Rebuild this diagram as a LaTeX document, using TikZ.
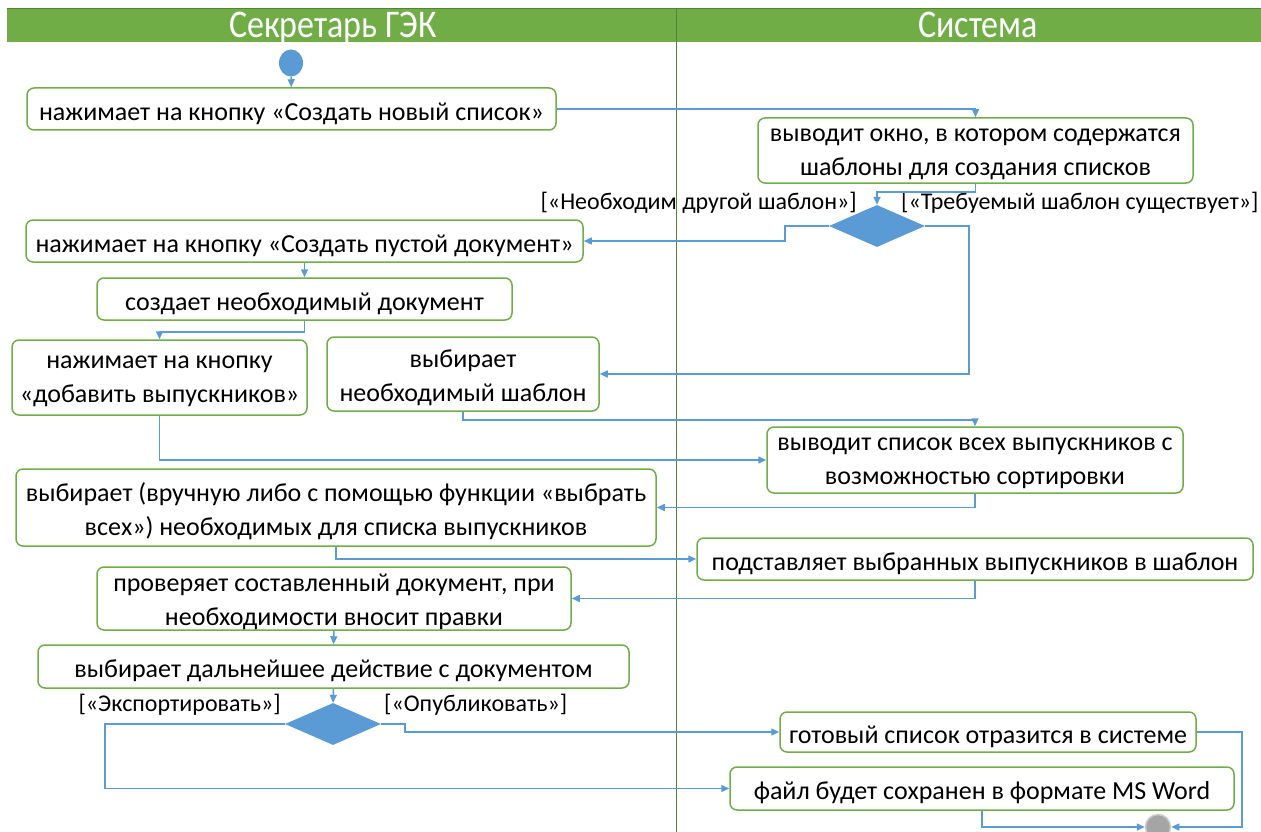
\documentclass[tikz,border=0pt]{standalone}
\usepackage{fontspec}
\usepackage{graphicx}
\setmainfont{Carlito}
\usetikzlibrary{shapes.geometric,arrows.meta}
\definecolor{grn}{HTML}{70AD47}
\definecolor{dgrn}{HTML}{548235}
\definecolor{blu}{HTML}{5B9BD5}
\definecolor{endg}{HTML}{A5A5A5}
\begin{document}
\begin{tikzpicture}[x=1pt,y=-1pt,
  act/.style={draw=grn, line width=1.5pt, rounded corners=7pt, fill=white, inner sep=0pt},
  txt/.style={align=center, inner sep=0pt, font=\fontsize{26}{34}\selectfont},
  con/.style={draw=blu, line width=1.5pt, -{Triangle[length=8pt,width=7pt]}},
  dec/.style={diamond, fill=blu, draw=none, inner sep=0pt, minimum width=96pt, minimum height=42pt},
  guard/.style={inner sep=0pt, font=\fontsize{24}{28}\selectfont},
  head/.style={text=white, inner sep=0pt, anchor=base, font=\fontsize{35}{38}\selectfont}]
\useasboundingbox (0,0) rectangle (1261,832);
% header
\fill[grn] (7,9) rectangle (1261,42);
\draw[dgrn, line width=1pt] (7,9) -- (1261,9);
\draw[dgrn, line width=0.8pt] (676,9) -- (676,832);
\node[head] (h1) at (333,38) {\scalebox{0.97}[1.12]{Секретарь ГЭК}};
\node[head] (h2) at (978,38) {\scalebox{0.97}[1.12]{Система}};
% start / end
\node[ellipse, fill=blu, inner sep=0pt, minimum width=24pt, minimum height=27pt] (st) at (291,63) {};
\node[circle, fill=endg, draw=gray!40, line width=1.5pt, inner sep=0pt, minimum size=25pt] (en) at (1158,827) {};
% activities (boxes)
\node[act, minimum width=529pt, minimum height=42pt] (b1) at (291.5,109) {};
\node[act, minimum width=435pt, minimum height=65pt] (b2) at (975.5,150.5) {};
\node[dec] (d1) at (877,226) {};
\node[act, minimum width=557pt, minimum height=42pt] (b3) at (304.5,241) {};
\node[act, minimum width=415pt, minimum height=42pt] (b4) at (304.5,299) {};
\node[act, minimum width=295pt, minimum height=75pt] (b5) at (159.5,377.5) {};
\node[act, minimum width=272pt, minimum height=74pt] (b6) at (463,374) {};
\node[act, minimum width=416pt, minimum height=66pt] (b7) at (975,460) {};
\node[act, minimum width=640pt, minimum height=77pt] (b8) at (336,507.5) {};
\node[act, minimum width=556pt, minimum height=42pt] (b9) at (975,559) {};
\node[act, minimum width=474pt, minimum height=63pt] (b10) at (334,598.5) {};
\node[act, minimum width=591pt, minimum height=43pt] (b11) at (333.5,666.5) {};
\node[dec] (d2) at (333,724) {};
\node[act, minimum width=416pt, minimum height=40pt] (b12) at (988,732) {};
\node[act, minimum width=504pt, minimum height=43pt] (b13) at (982,788.5) {};
% texts
\node[txt] (t1) at ([yshift=-4.5pt]b1.center) {нажимает на кнопку «Создать новый список»};
\node[txt] (t2) at ([yshift=-3.5pt]b2.center) {выводит окно, в котором содержатся\\шаблоны для создания списков};
\node[txt] (t3) at ([yshift=-4.5pt]b3.center) {нажимает на кнопку «Создать пустой документ»};
\node[txt] (t4) at ([yshift=-4.5pt]b4.center) {создает необходимый документ};
\node[txt] (t5) at ([yshift=-3.5pt]b5.center) {нажимает на кнопку\\«добавить выпускников»};
\node[txt] (t6) at ([yshift=-3.5pt]b6.center) {выбирает\\необходимый шаблон};
\node[txt] (t7) at ([yshift=-3.5pt]b7.center) {выводит список всех выпускников с\\возможностью сортировки};
\node[txt] (t8) at ([yshift=-3.5pt]b8.center) {выбирает (вручную либо с помощью функции «выбрать\\всех») необходимых для списка выпускников};
\node[txt] (t9) at ([yshift=-4.5pt]b9.center) {подставляет выбранных выпускников в шаблон};
\node[txt] (t10) at ([yshift=-3.5pt]b10.center) {проверяет составленный документ, при\\необходимости вносит правки};
\node[txt] (t11) at ([yshift=-4.5pt]b11.center) {выбирает дальнейшее действие с документом};
\node[txt] (t12) at ([yshift=-4.5pt]b12.center) {готовый список отразится в системе};
\node[txt] (t13) at ([yshift=-4.5pt]b13.center) {файл будет сохранен в формате MS Word};
% guards
\node[guard, anchor=east] (g1) at (857,203) {[«Необходим другой шаблон»]};
\node[guard, anchor=west] (g2) at (901,203) {[«Требуемый шаблон существует»]};
\node[guard, anchor=east] (g3) at (281,705) {[«Экспортировать»]};
\node[guard, anchor=west] (g4) at (384,705) {[«Опубликовать»]};
% connectors
\draw[con] (st) -- (b1);
\draw[con] (b1.east) -| (b2.north);
\draw[con] (b2.south) -- ++(0,8) -| (d1.north);
\draw[con] (d1.west) -- ++(-44,0) |- (b3.east);
\draw[con] (d1.east) -- ++(44,0) |- (b6.east);
\draw[con] (b3.south) -- (b4.north);
\draw[con] (b4.south) -- ++(0,11) -| (b5.north);
\draw[con] (b6.south) -- ++(0,8) -| (b7.north);
\draw[con] (b5.south) |- (b7.west);
\draw[con] (b7.south) |- (b8.east);
\draw[con] (b8.south) |- (b9.west);
\draw[con] (b9.south) |- (b10.east);
\draw[con] (b10.south) -- (b11.north);
\draw[con] (b11.south) -- (d2.north);
\draw[con] (d2.east) -- ++(24,0) |- (b12.west);
\draw[con] (d2.west) -- ++(-180,0) |- (b13.west);
\draw[con] (b12.east) -- ++(45,0) |- (en.east);
\draw[con] (b13.south) |- (en.west);
\end{tikzpicture}
\end{document}
